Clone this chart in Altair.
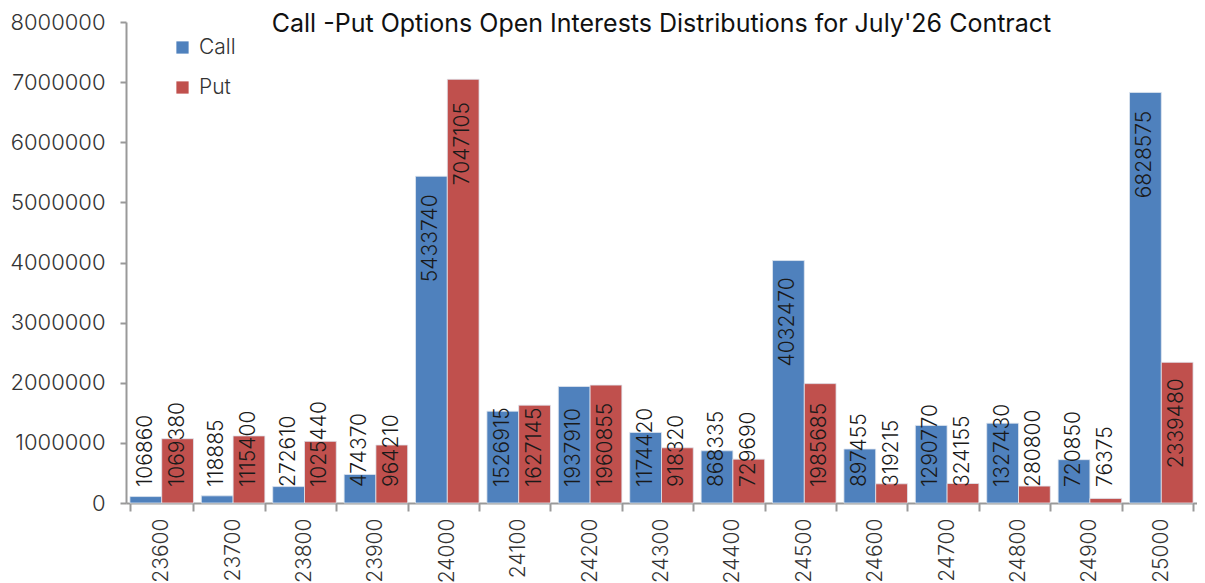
import altair as alt
import pandas as pd

strikes = ["23600", "23700", "23800", "23900", "24000", "24100", "24200", "24300",
           "24400", "24500", "24600", "24700", "24800", "24900", "25000"]
call_oi = [106860, 118885, 272610, 474370, 5433740, 1526915, 1937910, 1174420,
           868335, 4032470, 897455, 1290770, 1327430, 720850, 6828575]
put_oi = [1069380, 1115400, 1025440, 964210, 7047105, 1627145, 1960855, 918320,
          729690, 1985685, 319215, 324155, 280800, 76375, 2339480]
series_names = ["Call", "Put"]
series_colors = ["#4F81BD", "#C0504D"]
y_ticks = [0, 1000000, 2000000, 3000000, 4000000, 5000000, 6000000, 7000000, 8000000]
title_text = "Call -Put Options Open Interests Distributions for July'26 Contract"

rows = []
for s, c, p in zip(strikes, call_oi, put_oi):
    rows.append({"strike": s, "series": "Call", "oi": c})
    rows.append({"strike": s, "series": "Put", "oi": p})
df = pd.DataFrame(rows)

FONT = "Inter"
W, H = 1071, 481
YMAX = 8000000
K = YMAX / H  # data units per pixel
DIGIT = 12.7

x_enc = alt.X("strike:N", sort=strikes,
              scale=alt.Scale(paddingInner=0.11, paddingOuter=0.055),
              axis=alt.Axis(title=None, labelAngle=-90, labelFontSize=21, labelFont=FONT,
                            labelFontWeight=300, labelColor="#333333", labelPadding=7,
                            tickBand="extent", tickSize=8, tickColor="#999999", tickWidth=2,
                            domainColor="#999999", domainWidth=2))
y_enc = alt.Y("oi:Q", scale=alt.Scale(domain=[0, YMAX], nice=False),
              axis=alt.Axis(title=None, values=y_ticks, format="d", labelFontSize=22,
                            labelFont=FONT, labelFontWeight=300, labelColor="#333333",
                            labelPadding=15, tickSize=6, tickColor="#999999", tickWidth=2,
                            domainColor="#999999", domainWidth=2, grid=False))
color_enc = alt.Color("series:N", sort=series_names,
                      scale=alt.Scale(domain=series_names, range=series_colors),
                      legend=alt.Legend(title=None, orient="none", legendX=46, legendY=15,
                                        direction="vertical", symbolType="square",
                                        symbolSize=150, symbolStrokeWidth=0,
                                        labelFontSize=21, labelFont=FONT, labelFontWeight=300,
                                        labelColor="#333333", rowPadding=18, labelOffset=6,
                                        padding=0))

bars = alt.Chart(df).mark_bar(stroke="#dfe6ef", strokeWidth=0.8).encode(
    x=x_enc,
    xOffset=alt.XOffset("series:N", sort=series_names, scale=alt.Scale(paddingInner=0)),
    y=y_enc,
    color=color_enc,
)

labels = alt.Chart(df).transform_calculate(
    lab_y=f"max(datum.oi - (17 + length(toString(datum.oi)) * {DIGIT}) * {K}, 16 * {K})"
).mark_text(angle=270, align="left", baseline="middle", fontSize=21, font=FONT,
            fontWeight=300, color="#1a1a1a").encode(
    x=alt.X("strike:N", sort=strikes),
    xOffset=alt.XOffset("series:N", sort=series_names),
    y=alt.Y("lab_y:Q"),
    text=alt.Text("oi:Q", format="d"),
)

title_layer = alt.Chart(pd.DataFrame({"t": [title_text]})).mark_text(
    align="center", baseline="alphabetic", fontSize=25, font=FONT, color="#111111"
).encode(
    x=alt.value(W / 2),
    y=alt.value(10),
    text="t:N",
)

chart = alt.layer(bars, labels, title_layer).properties(
    width=W, height=H,
    autosize=alt.AutoSizeParams(type="none"),
    padding={"left": 118, "top": 14, "right": 0, "bottom": 80},
).configure_view(stroke=None)

chart.save("out.html", embed_options={"renderer": "svg", "actions": False})
